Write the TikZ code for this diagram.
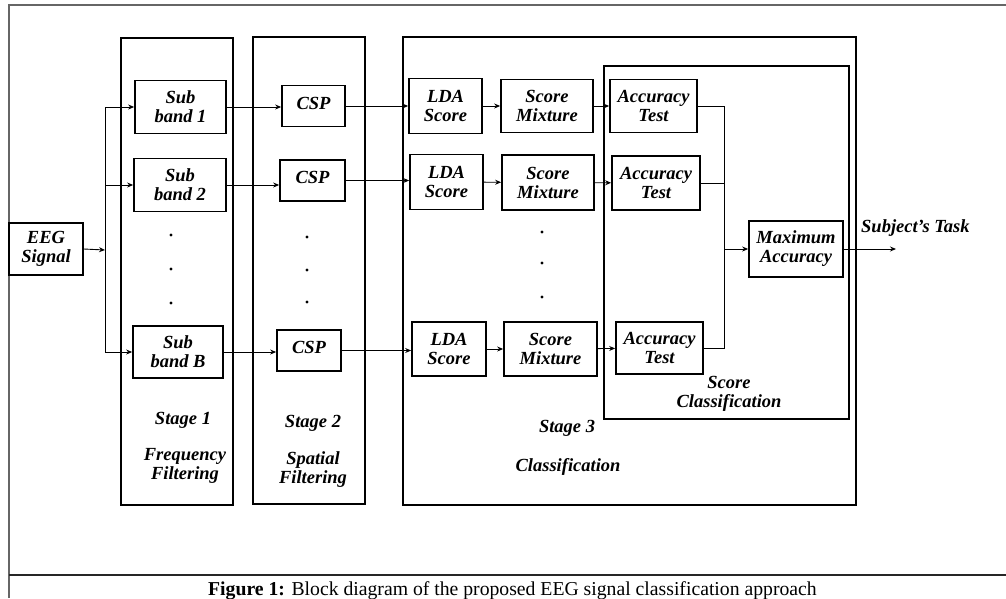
\documentclass[tikz,border=0pt]{standalone}
\usepackage{fontspec}
\setmainfont{Liberation Serif}
\usetikzlibrary{arrows.meta}
\begin{document}
\begin{tikzpicture}[x=1pt,y=-1pt,
  blk/.style={draw, line width=1.7pt, inner sep=0pt, align=center,
    font=\fontsize{18.5}{19}\selectfont\bfseries\itshape},
  stagebox/.style={draw, line width=1.9pt, inner sep=0pt},
  lbl/.style={inner sep=0pt, align=center,
    font=\fontsize{18.5}{19}\selectfont\bfseries\itshape},
  conn/.style={line width=0.9pt},
  arr/.style={conn, -{Stealth[length=6pt,width=5pt]}},
  frame/.style={draw=black!60, line width=1.3pt},
  dot/.style={fill=black}
]
\useasboundingbox (0,0) rectangle (1006,598);
% outer frame
\draw[frame] (9,598) -- (9,5) -- (1006,5);
\draw[line width=1.8pt, draw=black!85] (9,575) -- (1006,575);

% stage boxes
\node[stagebox, minimum width=112pt, minimum height=467pt] (st1) at (177,271.5) {};
\node[stagebox, minimum width=112pt, minimum height=467pt] (st2) at (309,270.5) {};
\node[stagebox, minimum width=453pt, minimum height=468pt] (st3) at (629.5,271) {};
\node[stagebox, minimum width=245pt, minimum height=353pt] (sc) at (726.5,242.5) {};

% blocks
\node[blk, minimum width=74pt, minimum height=52pt] (eeg) at (46,249) {EEG\\Signal};
\node[blk, minimum width=91pt, minimum height=53pt] (sb1) at (180.5,107) {Sub\\band 1};
\node[blk, minimum width=92pt, minimum height=53pt] (sb2) at (180,185) {Sub\\band 2};
\node[blk, minimum width=90pt, minimum height=52pt] (sbB) at (178,352) {Sub\\band B};
\node[blk, minimum width=63pt, minimum height=41pt] (csp1) at (313.5,106) {\raisebox{6pt}{CSP}};
\node[blk, minimum width=65pt, minimum height=41pt] (csp2) at (312.5,180.5) {\raisebox{6pt}{CSP}};
\node[blk, minimum width=64pt, minimum height=41pt] (cspB) at (309,350.5) {\raisebox{6pt}{CSP}};

\node[blk, minimum width=73pt, minimum height=55pt] (lda1) at (445.5,106) {LDA\\Score};
\node[blk, minimum width=92pt, minimum height=53pt] (mix1) at (547,106) {Score\\Mixture};
\node[blk, minimum width=87pt, minimum height=53pt] (acc1) at (653.5,106) {Accuracy\\Test};
\node[blk, minimum width=73pt, minimum height=55pt] (lda2) at (446.5,182) {LDA\\Score};
\node[blk, minimum width=92pt, minimum height=55pt] (mix2) at (548,182.5) {Score\\Mixture};
\node[blk, minimum width=88pt, minimum height=54pt] (acc2) at (656,183) {Accuracy\\Test};
\node[blk, minimum width=74pt, minimum height=54pt] (ldaB) at (449,349) {LDA\\Score};
\node[blk, minimum width=93pt, minimum height=54pt] (mixB) at (550.5,349) {Score\\Mixture};
\node[blk, minimum width=87pt, minimum height=52pt] (accB) at (659.5,348) {Accuracy\\Test};
\node[blk, minimum width=94pt, minimum height=56pt] (max) at (796,249) {Maximum\\Accuracy};

% dots
\foreach \y in {235,269,303} \fill[dot] (171,\y) circle (1.6pt);
\foreach \y in {237,270,302} \fill[dot] (307,\y) circle (1.6pt);
\foreach \y in {232,263,297} \fill[dot] (542,\y) circle (1.6pt);

% labels
\node[lbl] (s1) at (183,420) {Stage 1};
\node[lbl] (f1) at (185,466) {Frequency\\Filtering};
\node[lbl] (s2) at (313,423) {Stage 2};
\node[lbl] (f2) at (313,470) {Spatial\\Filtering};
\node[lbl] (s3) at (567,428) {Stage 3};
\node[lbl] (c3) at (568,467) {Classification};
\node[lbl] (scl) at (729,394) {Score\\Classification};
\node[lbl, anchor=west] (task) at (861,228) {Subject's Task};

% connectors
\coordinate (j) at (105,250);
\coordinate (bus) at (724,249);
\coordinate (out) at (896,249);
\draw[arr] (eeg.east) -- (j);
\draw[conn] (j) -- (105,107);
\draw[conn] (j) -- (105,352);
\draw[arr] (j) |- (sb1.west);
\draw[arr] (j) |- (sb2.west);
\draw[arr] (j) |- (sbB.west);
\draw[arr] (sb1.east) -- (csp1.west |- sb1.east);
\draw[arr] (sb2.east) -- (csp2.west |- sb2.east);
\draw[arr] (sbB.east) -- (cspB.west |- sbB.east);
\draw[arr] (csp1.east) -- (lda1.west);
\draw[arr] (csp2.east) -- (lda2.west |- csp2.east);
\draw[arr] (cspB.east) -- (ldaB.west |- cspB.east);
\draw[arr] (lda1) -- (mix1);
\draw[arr] (lda2) -- (mix2);
\draw[arr] (ldaB) -- (mixB);
\draw[arr] (mix1) -- (acc1);
\draw[arr] (mix2) -- (acc2);
\draw[arr] (mixB) -- (accB);
\draw[conn] (acc1.east) -| (bus);
\draw[conn] (acc2.east) -| (bus);
\draw[conn] (accB.east) -| (bus);
\draw[arr] (bus) -- (max.west);
\draw[arr] (max.east) -- (out);

% caption
\node[anchor=base west, inner sep=0pt, font=\fontsize{19.7}{22}\selectfont] (cap) at (208,595)
  {\textbf{Figure 1:} Block diagram of the proposed EEG signal classification approach};
\end{tikzpicture}
\end{document}
